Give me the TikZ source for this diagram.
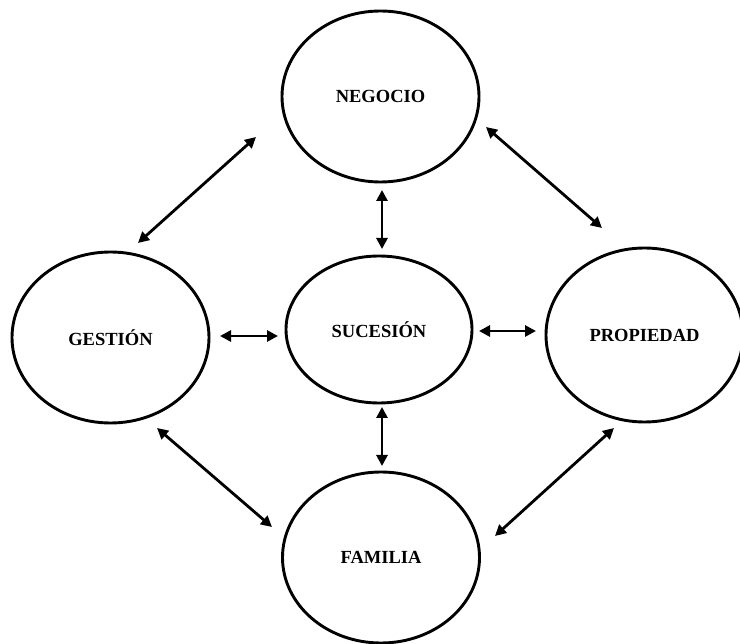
\documentclass[tikz,border=0pt]{standalone}
\usepackage{fontspec}
\setmainfont{Liberation Serif}
\usetikzlibrary{shapes.geometric,arrows.meta}

\tikzset{
  part/.style={ellipse, draw=black, line width=2.9pt, inner sep=0pt,
               font=\fontsize{18.5}{22}\selectfont\bfseries},
  big/.style={part, minimum width=197pt, minimum height=171pt},
  link/.style={line width=2.8pt,
               {Triangle[length=11pt,width=11pt]}-{Triangle[length=11pt,width=11pt]}}
}

\begin{document}
\begin{tikzpicture}[x=1pt,y=-1pt]
  \useasboundingbox (0,0) rectangle (740,644);

  % the five areas
  \node[big] (neg) at (380.5,96.5)  {NEGOCIO};
  \node[big] (ges) at (110.5,337.5) {GESTIÓN};
  \node[part, minimum width=186pt, minimum height=147pt] (suc) at (379,329.5) {SUCESIÓN};
  \node[big, minimum height=174pt] (pro) at (644.5,335) {PROPIEDAD};
  \node[big] (fam) at (381,557.5)   {FAMILIA};

  % ends of the two-way arrows
  \coordinate (ng1) at (256,137);  \coordinate (ng2) at (138,243);
  \coordinate (np1) at (486,127);  \coordinate (np2) at (602,228);
  \coordinate (gf1) at (157,428);  \coordinate (gf2) at (272,527);
  \coordinate (pf1) at (614,428);  \coordinate (pf2) at (495,536);
  \coordinate (gs1) at (220,336);  \coordinate (gs2) at (278,336);
  \coordinate (sp1) at (479,331);  \coordinate (sp2) at (536,331);
  \coordinate (ns1) at (382,190);  \coordinate (ns2) at (382,249);
  \coordinate (sf1) at (382,407);  \coordinate (sf2) at (382,466);

  \draw[link] (ng1) -- (ng2);
  \draw[link] (np1) -- (np2);
  \draw[link] (gf1) -- (gf2);
  \draw[link] (pf1) -- (pf2);
  \draw[link] (gs1) -- (gs2);
  \draw[link] (sp1) -- (sp2);
  \draw[link] (ns1) -- (ns2);
  \draw[link] (sf1) -- (sf2);
\end{tikzpicture}
\end{document}
